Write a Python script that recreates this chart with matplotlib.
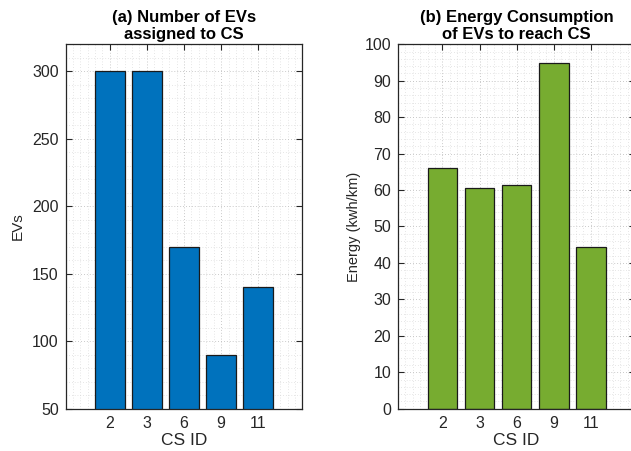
import matplotlib
matplotlib.use("Agg")
import matplotlib.pyplot as plt
from matplotlib.ticker import MultipleLocator, FixedLocator

plt.rcParams['font.family'] = ['Liberation Sans', 'DejaVu Sans']

cs_ids = ["2", "3", "6", "9", "11"]
evs_assigned = [300, 300, 170, 90, 140]
energy_consumption = [66, 60.7, 61.4, 95, 44.4]

blue = "#0072BD"
green = "#77AC30"
axis_color = "#262626"

fig = plt.figure(figsize=(6.31, 4.51), dpi=100)

W, H = 631, 451
ax_w = (302.3 - 65.7) / W
ax_h = (408.7 - 44.3) / H
ax_b = (H - 408.7) / H
ax1 = fig.add_axes([65.7 / W, ax_b, ax_w, ax_h])
ax2 = fig.add_axes([398.3 / W, ax_b, ax_w, ax_h])


def style_axes(ax, ylim, major, minor):
    pos = list(range(1, len(cs_ids) + 1))
    ax.set_xlim(-0.19, 6.19)
    ax.set_ylim(*ylim)
    ax.xaxis.set_major_locator(FixedLocator(pos))
    ax.set_xticklabels(cs_ids)
    ax.xaxis.set_minor_locator(MultipleLocator(0.2))
    ax.yaxis.set_major_locator(MultipleLocator(major))
    ax.yaxis.set_minor_locator(MultipleLocator(minor))
    ax.set_axisbelow(True)
    ax.grid(which='major', color='#b8b8b8', linestyle=(0, (1, 2.5)), linewidth=0.6)
    ax.grid(which='minor', color='#cfcfcf', linestyle=(0, (1, 3)), linewidth=0.5)
    ax.tick_params(which='major', direction='in', length=4, width=0.8,
                   top=True, right=True, colors=axis_color, labelsize=11.5,
                   labelcolor='#262626', pad=5)
    ax.tick_params(which='minor', length=0, top=True, right=True)
    for s in ax.spines.values():
        s.set_color(axis_color)
        s.set_linewidth(0.9)
    ax.set_xlabel("CS ID", fontsize=12.5, color='#262626', labelpad=2)


pos = list(range(1, len(cs_ids) + 1))

ax1.bar(pos, evs_assigned, width=0.8, color=blue, edgecolor='#1a1a1a',
        linewidth=0.9)
style_axes(ax1, (50, 320), 50, 10)
ax1.set_ylabel("EVs", fontsize=11, color='#262626', labelpad=5)
ax1.set_title("(a) Number of EVs\nassigned to CS", fontsize=12,
              fontweight='bold', pad=4, linespacing=1.15)

ax2.bar(pos, energy_consumption, width=0.8, color=green, edgecolor='#1a1a1a',
        linewidth=0.9)
style_axes(ax2, (0, 100), 10, 2)
ax2.set_ylabel("Energy (kwh/km)", fontsize=10.5, color='#262626', labelpad=3)
ax2.set_title("(b) Energy Consumption\nof EVs to reach CS", fontsize=12,
              fontweight='bold', pad=4, linespacing=1.15)

fig.savefig("out.png", dpi=100)
